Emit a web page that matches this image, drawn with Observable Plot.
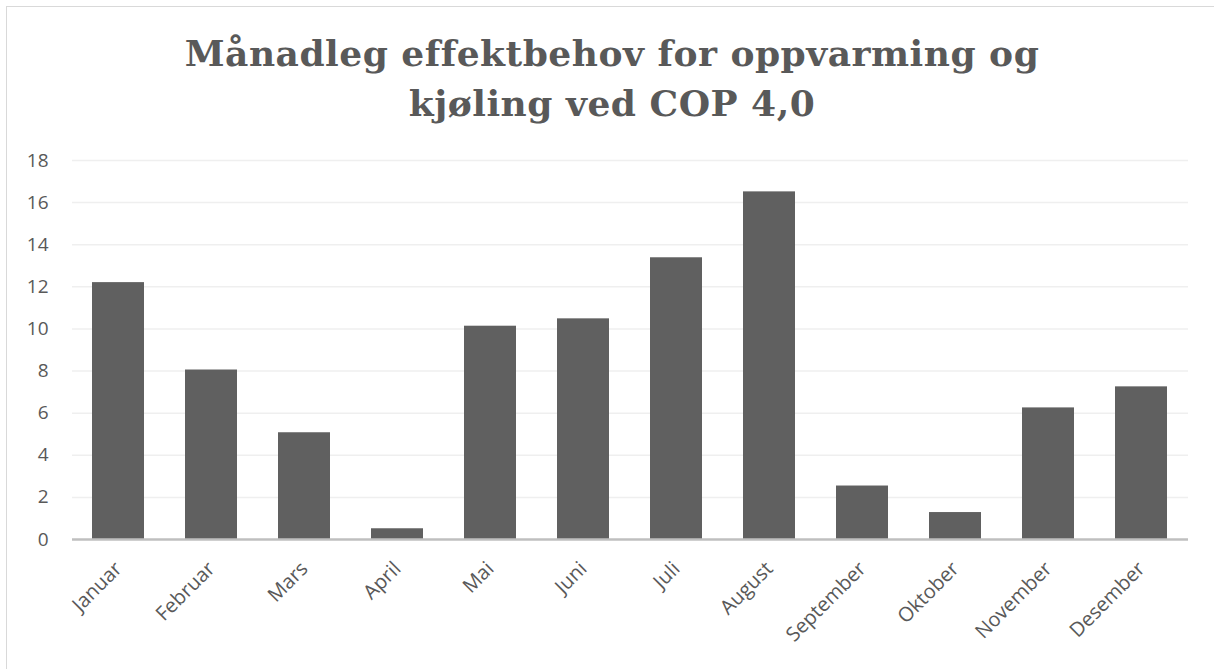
<!DOCTYPE html>
<html>
<head>
<meta charset="utf-8">
<script src="https://cdn.jsdelivr.net/npm/d3@7"></script>
<script src="https://cdn.jsdelivr.net/npm/@observablehq/plot@0.6"></script>
<style>
  html, body { margin: 0; padding: 0; background: #fff; }
  #frame { position: absolute; left: 6px; top: 6px; width: 1400px; height: 900px;
           border-left: 1.5px solid #d9d9d9; border-top: 1.5px solid #d9d9d9; }
  #title { position: absolute; left: 0; top: 28px; width: 1224px; text-align: center;
           font-family: "DejaVu Serif", serif; font-weight: bold; font-size: 36px;
           line-height: 50px; color: #595959; letter-spacing: 0.5px; }
  #chart { position: absolute; left: 0; top: 140px; }
</style>
</head>
<body>
<div id="frame"></div>
<div id="title">Månadleg effektbehov for oppvarming og<br>kjøling ved COP 4,0</div>
<div id="chart"></div>
<script>
const months = ["Januar","Februar","Mars","April","Mai","Juni","Juli","August","September","Oktober","November","Desember"];
const values = [12.2, 8.05, 5.07, 0.51, 10.13, 10.48, 13.38, 16.51, 2.54, 1.28, 6.25, 7.25];
const yTicks = [0,2,4,6,8,10,12,14,16,18];

const data = months.map((m, i) => ({month: m, value: values[i]}));

const plot = Plot.plot({
  width: 1214,
  height: 529,
  marginLeft: 72,
  marginRight: 26,
  marginTop: 20,
  marginBottom: 130,
  style: {fontFamily: "'Open Sans', sans-serif", fontSize: "19px", color: "#595959", background: "transparent"},
  x: {domain: months, paddingInner: 0.44, paddingOuter: 0.22, label: null},
  y: {domain: [0, 18], label: null},
  marks: [
    Plot.ruleY(yTicks.filter(t => t > 0), {stroke: "#efefef", strokeWidth: 1.5}),
    Plot.barY(data, {x: "month", y: "value", fill: "#606060"}),
    Plot.ruleY([0], {stroke: "#bfbfbf", strokeWidth: 2.5}),
    Plot.axisY(yTicks, {tickSize: 0, tickPadding: 24, fontSize: 19, fill: "#595959", label: null}),
    Plot.axisX({tickSize: 0, tickRotate: -45, tickPadding: 26, dx: 0, fontSize: 20, fill: "#595959", label: null})
  ]
});
document.getElementById("chart").appendChild(plot);
</script>
</body>
</html>
